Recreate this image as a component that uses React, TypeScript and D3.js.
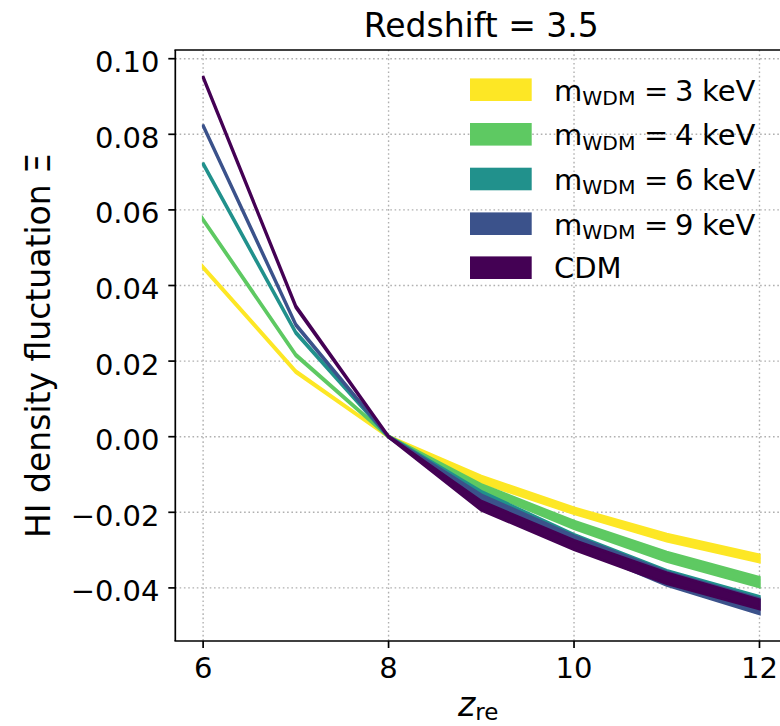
import React from "react";
import * as d3 from "d3";

const zre = [6, 7, 8, 9, 10, 11, 12];

const up3 = [0.0451, 0.0175, 0.0002, -0.0104, -0.0188, -0.0257, -0.0312];
const lo3 = [0.0445, 0.0169, -0.0002, -0.0122, -0.0204, -0.0277, -0.0332];
const up4 = [0.0577, 0.0219, 0.0002, -0.0126, -0.0223, -0.0305, -0.0372];
const lo4 = [0.0571, 0.0213, -0.0002, -0.0142, -0.0244, -0.033, -0.0398];
const up6 = [0.0725, 0.0278, 0.0002, -0.0144, -0.0258, -0.0353, -0.0422];
const lo6 = [0.0719, 0.0272, -0.0002, -0.0156, -0.027, -0.0359, -0.0428];
const up9 = [0.0826, 0.0299, 0.0002, -0.0153, -0.0262, -0.0357, -0.0428];
const lo9 = [0.082, 0.0293, -0.0002, -0.0173, -0.029, -0.0394, -0.0469];
const upCDM = [0.0954, 0.0347, 0.0002, -0.017, -0.0274, -0.036, -0.0431];
const loCDM = [0.0948, 0.0341, -0.0002, -0.0195, -0.0299, -0.0389, -0.0456];

const seriesNames = ["3", "4", "6", "9", "CDM"];
const seriesColors = ["#fde725", "#5ec962", "#21918c", "#3b528b", "#440154"];
const uppers = [up3, up4, up6, up9, upCDM];
const lowers = [lo3, lo4, lo6, lo9, loCDM];

const xTicks = [6, 8, 10, 12];
const yTicks = [0.1, 0.08, 0.06, 0.04, 0.02, 0, -0.02, -0.04];

const W = 780;
const H = 726;
const L = 175.3;
const R = 787.3;
const T = 50;
const B = 641;

export default function App() {
  const x = d3.scaleLinear().domain([5.7, 12.3]).range([L, R]);
  const y = d3
    .scaleLinear()
    .domain([-(B - 436.7) / 3780, (436.7 - T) / 3780])
    .range([B, T]);

  const fmt = (v: number) => {
    const s = Math.abs(v).toFixed(2);
    return v < -1e-9 ? "\u2212" + s : s;
  };

  const font = "DejaVu Sans, sans-serif";
  const legendRowY = [89.7, 134.3, 179, 223.7, 267.7];

  return (
    <svg width={W} height={H} style={{ display: "block", position: "absolute", left: 0, top: 0 }} fontFamily={font}>
      <rect width={W} height={H} fill="#fff" />
      <defs>
        <clipPath id="plotclip">
          <rect x={L} y={T} width={R - L} height={B - T} />
        </clipPath>
      </defs>
      {/* grid */}
      <g stroke="#b0b0b0" strokeWidth={1.4} strokeDasharray="1.6,2.7">
        {xTicks.map((t) => (
          <line key={"gx" + t} x1={x(t)} x2={x(t)} y1={T} y2={B} />
        ))}
        {yTicks.map((t) => (
          <line key={"gy" + t} x1={L} x2={R} y1={y(t)} y2={y(t)} />
        ))}
      </g>
      {/* bands */}
      <g clipPath="url(#plotclip)">
        {seriesNames.map((n, k) => {
          const a = d3
            .area<number>()
            .x((_, i) => x(zre[i]))
            .y0((_, i) => y(lowers[k][i]))
            .y1((_, i) => y(uppers[k][i]));
          return (
            <path
              key={n}
              d={a(zre) || ""}
              fill={seriesColors[k]}
              stroke={seriesColors[k]}
              strokeWidth={2.5}
              strokeLinejoin="miter"
            />
          );
        })}
      </g>
      {/* spines */}
      <g stroke="#000" strokeWidth={1.7} fill="none">
        <line x1={L} x2={L} y1={T} y2={B} />
        <line x1={L - 0.85} x2={R} y1={B} y2={B} />
        <line x1={L - 0.85} x2={R} y1={T} y2={T} />
        <line x1={R} x2={R} y1={T} y2={B} />
      </g>
      {/* y ticks */}
      {yTicks.map((t) => (
        <g key={"yt" + t}>
          <line x1={L - 7} x2={L} y1={y(t)} y2={y(t)} stroke="#000" strokeWidth={1.7} />
          <text x={159.5} y={y(t) + 13.4} fontSize={29} textAnchor="end" fill="#000">
            {fmt(t)}
          </text>
        </g>
      ))}
      {/* x ticks */}
      {xTicks.map((t) => (
        <g key={"xt" + t}>
          <line x1={x(t)} x2={x(t)} y1={B} y2={B + 7} stroke="#000" strokeWidth={1.7} />
          <text x={x(t)} y={678.3} fontSize={29} textAnchor="middle" fill="#000">
            {t}
          </text>
        </g>
      ))}
      {/* title */}
      <text x={(L + R) / 2} y={36.7} fontSize={33} textAnchor="middle" fill="#000">
        Redshift = 3.5
      </text>
      {/* y label */}
      <text
        transform={`translate(49.5, ${(T + B) / 2}) rotate(-90)`}
        fontSize={33}
        textAnchor="middle"
        fill="#000"
      >
        HI density fluctuation Ξ
      </text>
      {/* x label */}
      <text x={458} y={716} fontSize={33} fill="#000">
        <tspan fontStyle="italic">z</tspan>
        <tspan fontSize={23} dy={4.3}>re</tspan>
      </text>
      {/* legend */}
      {seriesNames.map((n, k) => (
        <g key={"lg" + n}>
          <rect x={470} y={legendRowY[k] - 11.3} width={61.7} height={22.6} fill={seriesColors[k]} />
          {n === "CDM" ? (
            <text x={554} y={legendRowY[k] + 10.6} fontSize={29} fill="#000">
              CDM
            </text>
          ) : (
            <text x={554} y={legendRowY[k] + 11} fontSize={29} fill="#000" style={{ whiteSpace: "pre" }}>
              <tspan>m</tspan>
              <tspan fontSize={20.3} dy={4.3}>WDM</tspan>
              <tspan dy={-4.3} x={644}>=</tspan>
              <tspan x={675}>{n}</tspan>
              <tspan x={702}>keV</tspan>
            </text>
          )}
        </g>
      ))}
    </svg>
  );
}
